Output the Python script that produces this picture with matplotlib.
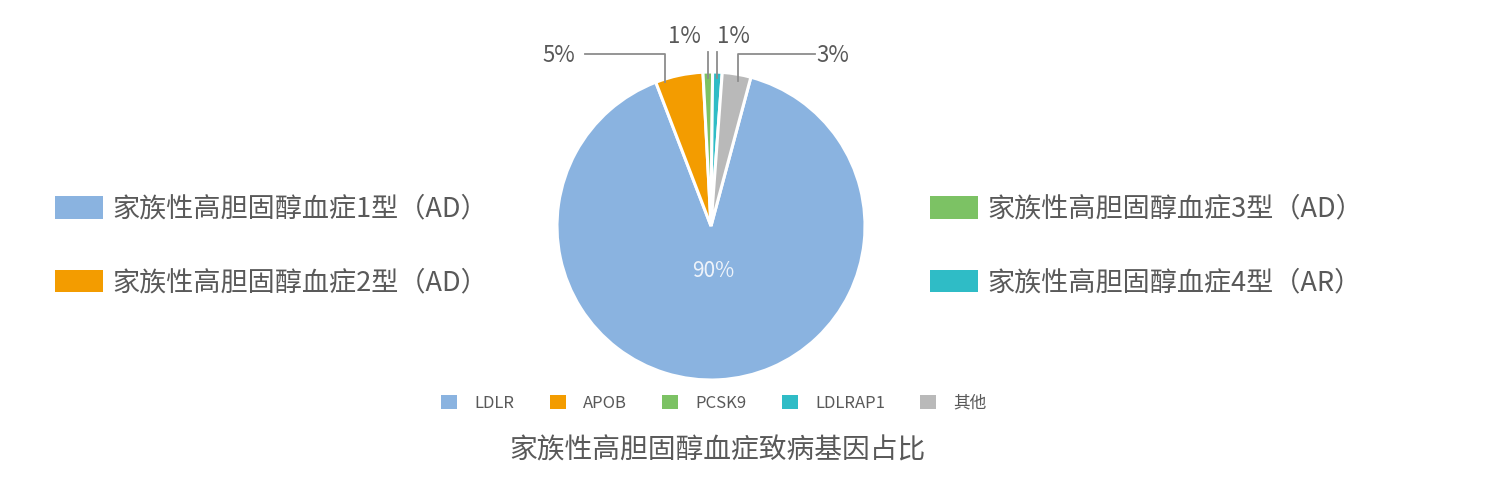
import numpy as np
import matplotlib
matplotlib.use("Agg")
import matplotlib.pyplot as plt
from matplotlib.patches import Patch

plt.rcParams['font.family'] = ['Noto Sans CJK SC', 'DejaVu Sans']

# ---- data ----
genes = ["LDLR", "APOB", "PCSK9", "LDLRAP1", "其他"]
shares = [90, 5, 1, 1, 3]
pct_labels = ["90%", "5%", "1%", "1%", "3%"]
colors = ["#8AB3E0", "#F39C00", "#7CC264", "#2FBCC6", "#B9B9B9"]
types_left = ["家族性高胆固醇血症1型（AD）", "家族性高胆固醇血症2型（AD）"]
types_right = ["家族性高胆固醇血症3型（AD）", "家族性高胆固醇血症4型（AR）"]
title = "家族性高胆固醇血症致病基因占比"

W, H = 1500, 490
fig = plt.figure(figsize=(W / 100, H / 100), dpi=100)
cx, cy, R = 711, 226, 154
half = 200
ax = fig.add_axes([(cx - half) / W, (H - (cy + half)) / H, 2 * half / W, 2 * half / H])

start = 75
wedges, _ = ax.pie(shares, colors=colors, startangle=start, counterclock=False,
                   radius=1.0, wedgeprops=dict(edgecolor='white', linewidth=2.2))
lim = half / R
ax.set_xlim(-lim, lim)
ax.set_ylim(-lim, lim)
ax.set_aspect('equal')
ax.axis('off')

# wedge angles measured clockwise from top
total = sum(shares)
bounds = [90 - start]
for s in shares:
    bounds.append(bounds[-1] + 360 * s / total)

txtc = "#595959"
linec = "#8C8C8C"

def pt(angle_deg, r):
    a = np.deg2rad(angle_deg)
    return r * np.sin(a), r * np.cos(a)

# 90% inside label
mid0 = (bounds[0] + bounds[1]) / 2
x, y = pt(mid0, 0.29)
ax.text(x, y, pct_labels[0], color="#EEF3FA", fontsize=15, ha='center', va='center')

# leader-line labels: (index, fraction within wedge, anchor radius, corner y, text x, text y, ha)
layout = [
    (1, 0.17, 0.98, 1.117, -0.88, 1.105, 'right'),
    (2, 0.5, 0.96, None, -0.17, 1.232, 'center'),
    (3, 0.5, 0.96, None, 0.145, 1.232, 'center'),
    (4, 0.6, 0.96, 1.117, 0.685, 1.107, 'left'),
]
for i, frac, r0, cyy, tx, ty, ha in layout:
    ang = bounds[i] + frac * (bounds[i + 1] - bounds[i])
    x0, y0 = pt(ang, r0)
    if cyy is None:
        ax.plot([x0, x0], [y0, 1.13], color=linec, lw=1.3, clip_on=False)
        ax.text(tx, ty, pct_labels[i], color=txtc, fontsize=16, ha=ha, va='center')
    else:
        line_end = -0.82 if ha == 'right' else 0.675
        ax.plot([x0, x0, line_end], [y0, cyy, cyy], color=linec, lw=1.3, clip_on=False)
        ax.text(tx, ty, pct_labels[i], color=txtc, fontsize=16, ha=ha, va='center')

# side legends (disease types)
fs_big = 19.5
left_handles = [Patch(facecolor=colors[i], edgecolor='none') for i in range(2)]
right_handles = [Patch(facecolor=colors[i + 2], edgecolor='none') for i in range(2)]
common = dict(frameon=False, fontsize=fs_big, handlelength=1.78, handleheight=0.9,
              handletextpad=0.33, labelspacing=1.72, borderpad=0, borderaxespad=0,
              labelcolor=txtc)
leg1 = fig.legend(left_handles, types_left, loc='center left',
                  bbox_to_anchor=(55 / W, (H - 246) / H), **common)
leg2 = fig.legend(right_handles, types_right, loc='center left',
                  bbox_to_anchor=(930 / W, (H - 246) / H), **common)

# bottom legend (genes)
gh = [Patch(facecolor=c, edgecolor='none') for c in colors]
leg3 = fig.legend(gh, genes, loc='center', bbox_to_anchor=(714 / W, (H - 403) / H),
                  ncol=5, frameon=False, fontsize=12, handlelength=0.96, handleheight=0.96,
                  handletextpad=1.05, columnspacing=2.1, borderpad=0, borderaxespad=0,
                  labelcolor=txtc)

fig.text(717 / W, (H - 450) / H, title, ha='center', va='center', fontsize=20, color=txtc)

fig.savefig("out.png", dpi=100, facecolor='white')
